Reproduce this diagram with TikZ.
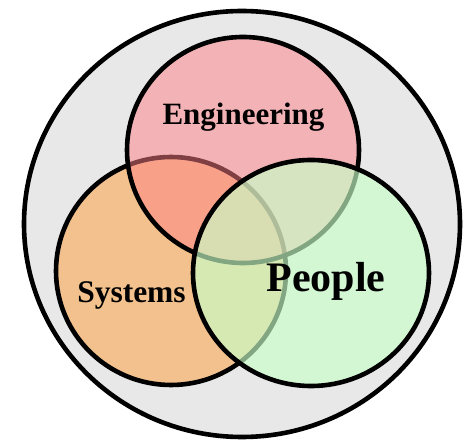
\documentclass[tikz,border=0pt]{standalone}
\usepackage{fontspec}
\setmainfont{Liberation Serif}
\definecolor{bggrey}{RGB}{232,232,232}
\definecolor{engfill}{RGB}{255,128,134}
\definecolor{sysfill}{RGB}{243,193,141}
\definecolor{pplfill}{RGB}{200,255,200}
\begin{document}
\begin{tikzpicture}[x=1pt,y=-1pt,
  ring/.style={draw=black,line width=4.6pt},
  lbl/.style={font=\bfseries, anchor=base, inner sep=0pt, text=black}]
\useasboundingbox (0,0) rectangle (469,443);
% outer circle
\draw[ring, fill=bggrey] (242,224) ellipse [x radius=218pt, y radius=213pt];
% Systems
\draw[ring, fill=sysfill] (171,271) ellipse [x radius=115pt, y radius=114pt];
% Engineering
\draw[ring, fill=engfill, fill opacity=0.5] (243,150) ellipse [x radius=116pt, y radius=113pt];
% People
\draw[ring, fill=pplfill, fill opacity=0.65] (311,273) ellipse [x radius=118pt, y radius=113pt];
% labels
\node[lbl, font=\bfseries\fontsize{31}{31}\selectfont] (eng) at (243.5,125) {Engineering};
\node[lbl, font=\bfseries\fontsize{31.5}{31.5}\selectfont] (sys) at (131.5,303) {Systems};
\node[lbl, font=\bfseries\fontsize{42}{42}\selectfont] (ppl) at (326,292) {People};
\end{tikzpicture}
\end{document}
